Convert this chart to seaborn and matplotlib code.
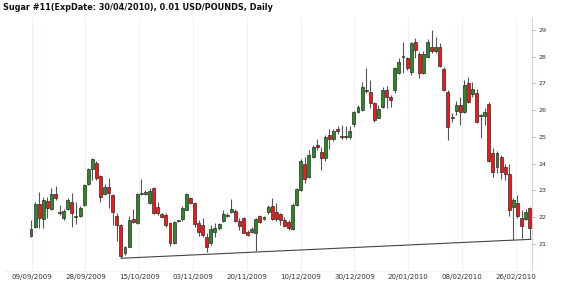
import matplotlib
matplotlib.use("Agg")
import matplotlib.pyplot as plt
import seaborn as sns
import numpy as np

# ---- data ----
opens = [21.27, 21.63, 22.48, 21.92, 22.60, 22.28, 22.87, 22.19, 21.95, 22.30,
         22.57, 22.00, 22.05, 22.45, 23.23, 23.79, 24.03, 23.53, 22.86, 23.11,
         22.82, 22.03, 21.70, 20.64, 20.88, 21.91, 21.76, 22.86, 22.86, 22.53,
         23.07, 22.38, 22.11, 22.07, 21.78, 21.03, 21.84, 21.91, 22.26, 22.70,
         22.51, 21.78, 21.70, 21.24, 21.01, 21.45, 21.60, 21.85, 22.03, 22.17,
         22.23, 21.85, 21.95, 21.45, 21.45, 21.39, 22.03, 21.92, 22.17, 22.41,
         22.19, 22.11, 21.88, 21.82, 21.54, 22.45, 23.01, 23.97, 23.51, 24.25,
         24.69, 24.44, 24.19, 25.07, 24.91, 25.29, 25.02, 24.99, 24.98, 25.48,
         25.92, 26.00, 26.75, 26.69, 26.25, 25.72, 26.13, 26.75, 26.50, 26.75,
         27.40, 27.98, 27.94, 27.44, 28.55, 28.09, 27.38, 28.00, 28.37, 28.21,
         28.37, 27.53, 26.69, 25.70, 25.98, 26.19, 25.94, 27.00, 26.60, 26.65,
         25.78, 25.79, 26.22, 24.38, 23.86, 24.25, 23.88, 23.60, 22.38, 22.51,
         21.95, 21.92, 22.32]
highs = [21.90, 22.55, 22.94, 22.76, 22.73, 23.10, 23.15, 22.45, 22.28, 22.70,
         22.88, 22.55, 22.41, 23.22, 23.82, 24.19, 24.09, 23.57, 23.22, 23.45,
         22.85, 22.13, 21.73, 20.91, 22.03, 22.28, 22.88, 23.41, 23.00, 23.07,
         23.11, 22.57, 22.16, 22.13, 21.82, 21.86, 21.90, 22.41, 22.88, 22.75,
         22.55, 21.90, 21.95, 21.38, 21.70, 21.76, 21.78, 22.26, 22.13, 22.67,
         22.30, 21.95, 22.00, 21.51, 21.63, 21.95, 22.07, 22.03, 22.45, 22.70,
         22.51, 22.16, 21.98, 21.88, 22.51, 23.07, 24.15, 24.25, 24.51, 24.70,
         24.90, 24.63, 25.07, 25.30, 25.30, 25.40, 25.45, 25.40, 25.40, 25.98,
         26.20, 27.06, 27.57, 27.13, 26.31, 26.19, 26.88, 26.90, 26.57, 27.63,
         27.94, 28.56, 28.00, 28.56, 28.70, 28.19, 28.20, 28.65, 29.00, 28.75,
         28.50, 27.60, 26.75, 25.88, 26.35, 26.50, 27.13, 27.25, 27.06, 26.80,
         25.85, 26.07, 26.31, 24.58, 24.45, 24.30, 24.00, 23.98, 22.70, 22.82,
         22.26, 22.30, 22.38]
lows = [21.24, 21.57, 21.57, 21.57, 21.95, 22.26, 22.63, 22.07, 21.88, 22.26,
        21.63, 21.73, 22.00, 22.42, 23.19, 23.38, 23.38, 22.55, 22.82, 22.32,
        21.70, 21.10, 20.45, 20.57, 20.86, 21.77, 21.73, 22.82, 22.82, 22.50,
        22.10, 22.07, 21.95, 21.63, 20.91, 20.98, 21.80, 21.86, 22.24, 22.50,
        21.63, 21.28, 21.26, 20.70, 20.93, 21.26, 21.50, 21.80, 21.98, 22.13,
        21.80, 21.51, 21.38, 21.28, 21.38, 20.71, 21.78, 21.88, 22.11, 21.88,
        21.85, 21.70, 21.63, 21.51, 21.51, 22.41, 22.97, 23.26, 23.45, 24.20,
        24.50, 23.76, 24.10, 24.55, 24.85, 25.10, 24.90, 24.90, 24.92, 25.38,
        25.88, 25.95, 26.63, 26.07, 25.57, 25.69, 26.09, 26.08, 26.13, 26.63,
        27.34, 27.38, 27.50, 27.30, 27.95, 27.19, 27.35, 27.95, 28.13, 28.15,
        27.60, 26.70, 24.88, 25.57, 25.80, 25.45, 25.88, 26.25, 26.50, 25.50,
        24.94, 25.44, 24.05, 23.51, 23.63, 23.41, 23.38, 22.03, 21.13, 21.95,
        21.22, 21.88, 21.19]
closes = [21.55, 22.48, 21.95, 22.63, 22.35, 22.87, 22.72, 22.13, 22.22, 22.63,
          22.13, 22.02, 22.35, 23.19, 23.78, 24.17, 23.47, 22.76, 23.13, 22.91,
          22.17, 21.70, 20.54, 20.86, 21.88, 21.82, 22.86, 22.90, 22.94, 22.97,
          22.13, 22.13, 21.98, 21.70, 21.01, 21.82, 21.86, 22.35, 22.86, 22.53,
          21.73, 21.45, 21.32, 20.86, 21.55, 21.57, 21.72, 22.11, 22.06, 22.30,
          21.85, 21.66, 21.41, 21.32, 21.55, 21.91, 21.82, 21.98, 22.36, 21.91,
          21.91, 21.88, 21.66, 21.57, 22.45, 23.03, 24.09, 23.41, 24.32, 24.63,
          24.60, 24.19, 25.00, 24.92, 25.22, 25.20, 25.00, 25.03, 25.23, 25.92,
          26.10, 26.88, 26.72, 26.25, 25.63, 26.04, 26.75, 26.50, 26.38, 27.57,
          27.81, 28.00, 27.59, 28.50, 28.25, 27.38, 28.09, 28.56, 28.21, 28.37,
          27.65, 26.75, 25.38, 25.76, 26.19, 25.92, 26.94, 26.31, 26.78, 25.57,
          25.80, 25.94, 24.10, 23.69, 24.38, 23.69, 23.60, 22.26, 22.63, 22.03,
          21.66, 22.19, 21.57]
tick_labels = ["09/09/2009", "28/09/2009", "15/10/2009", "03/11/2009", "20/11/2009",
               "10/12/2009", "30/12/2009", "20/01/2010", "08/02/2010", "26/02/2010"]
y_ticks = [21, 22, 23, 24, 25, 26, 27, 28, 29]
title = "Sugar #11(ExpDate: 30/04/2010), 0.01 USD/POUNDS, Daily"
trend_from, trend_to = 22, 118   # candles whose lows define the support line

# ---- styling ----
sns.set_theme(style="white")
plt.rcParams['font.family'] = ['DejaVu Sans']

W, H = 570, 290
fig = plt.figure(figsize=(W / 100, H / 100), dpi=100)
left_px, right_px, top_px, bot_px = 5, 532.3, 18, 271
ax = fig.add_axes([left_px / W, 1 - bot_px / H, (right_px - left_px) / W, (bot_px - top_px) / H])

n = len(opens)
x = np.arange(n)
o = np.array(opens); h = np.array(highs); l = np.array(lows); c = np.array(closes)
up = c >= o

green = "#2a8a22"
red = "#ff1212"

ax.vlines(x, l, h, color="#555555", linewidth=0.8, zorder=2)
bottoms = np.minimum(o, c)
heights = np.maximum(np.abs(c - o), 0.03)
ax.bar(x, heights, bottom=bottoms, width=0.72,
       color=[green if u else red for u in up],
       edgecolor="#2b2b2b", linewidth=0.5, zorder=3)

# support line through two lows, extended to the right edge
slope = (lows[trend_to] - lows[trend_from]) / (trend_to - trend_from)
spacing = (529.7 - 31) / (n - 1)
x_right = (right_px - 31) / spacing
x_left = (left_px - 31) / spacing
tx = np.array([trend_from, x_right - 0.3])
ty = lows[trend_from] + slope * (tx - trend_from)
sns.lineplot(x=tx, y=ty, ax=ax, color="#444444", linewidth=0.8, zorder=4)

ax.set_xlim(x_left, x_right)
ax.set_ylim(21 - (bot_px - 243.6) / 26.7, 21 + (243.6 - top_px) / 26.7)

tick_pos = [(31.7 + 53.8 * k - 31) / spacing for k in range(len(tick_labels))]
ax.set_xticks(tick_pos)
ax.set_xticklabels(tick_labels, fontsize=5.1, color="#333333")
ax.tick_params(axis="x", length=0, pad=2.5)
ax.grid(axis="x", color="#edf2f8", linewidth=0.8, zorder=0)
ax.grid(axis="y", visible=False)

ax.yaxis.tick_right()
ax.set_yticks(y_ticks)
ax.set_yticklabels([str(v) for v in y_ticks], fontsize=4.6, color="#333333")
ax.tick_params(axis="y", length=2, width=0.6, color="#9aa8b8", pad=2.5)

for s in ["top", "left"]:
    ax.spines[s].set_visible(False)
ax.spines["right"].set_color("#cfd8e4")
ax.spines["right"].set_linewidth(0.8)
ax.spines["bottom"].set_color("#edf2f8")
ax.spines["bottom"].set_linewidth(0.8)
ax.set_xlabel(""); ax.set_ylabel("")
if ax.get_legend():
    ax.get_legend().remove()

fig.text(3 / W, 1 - 10.5 / H, title, fontsize=5.9, fontweight="bold",
         color="#111111", va="baseline", ha="left")

fig.savefig("out.png", dpi=100)
